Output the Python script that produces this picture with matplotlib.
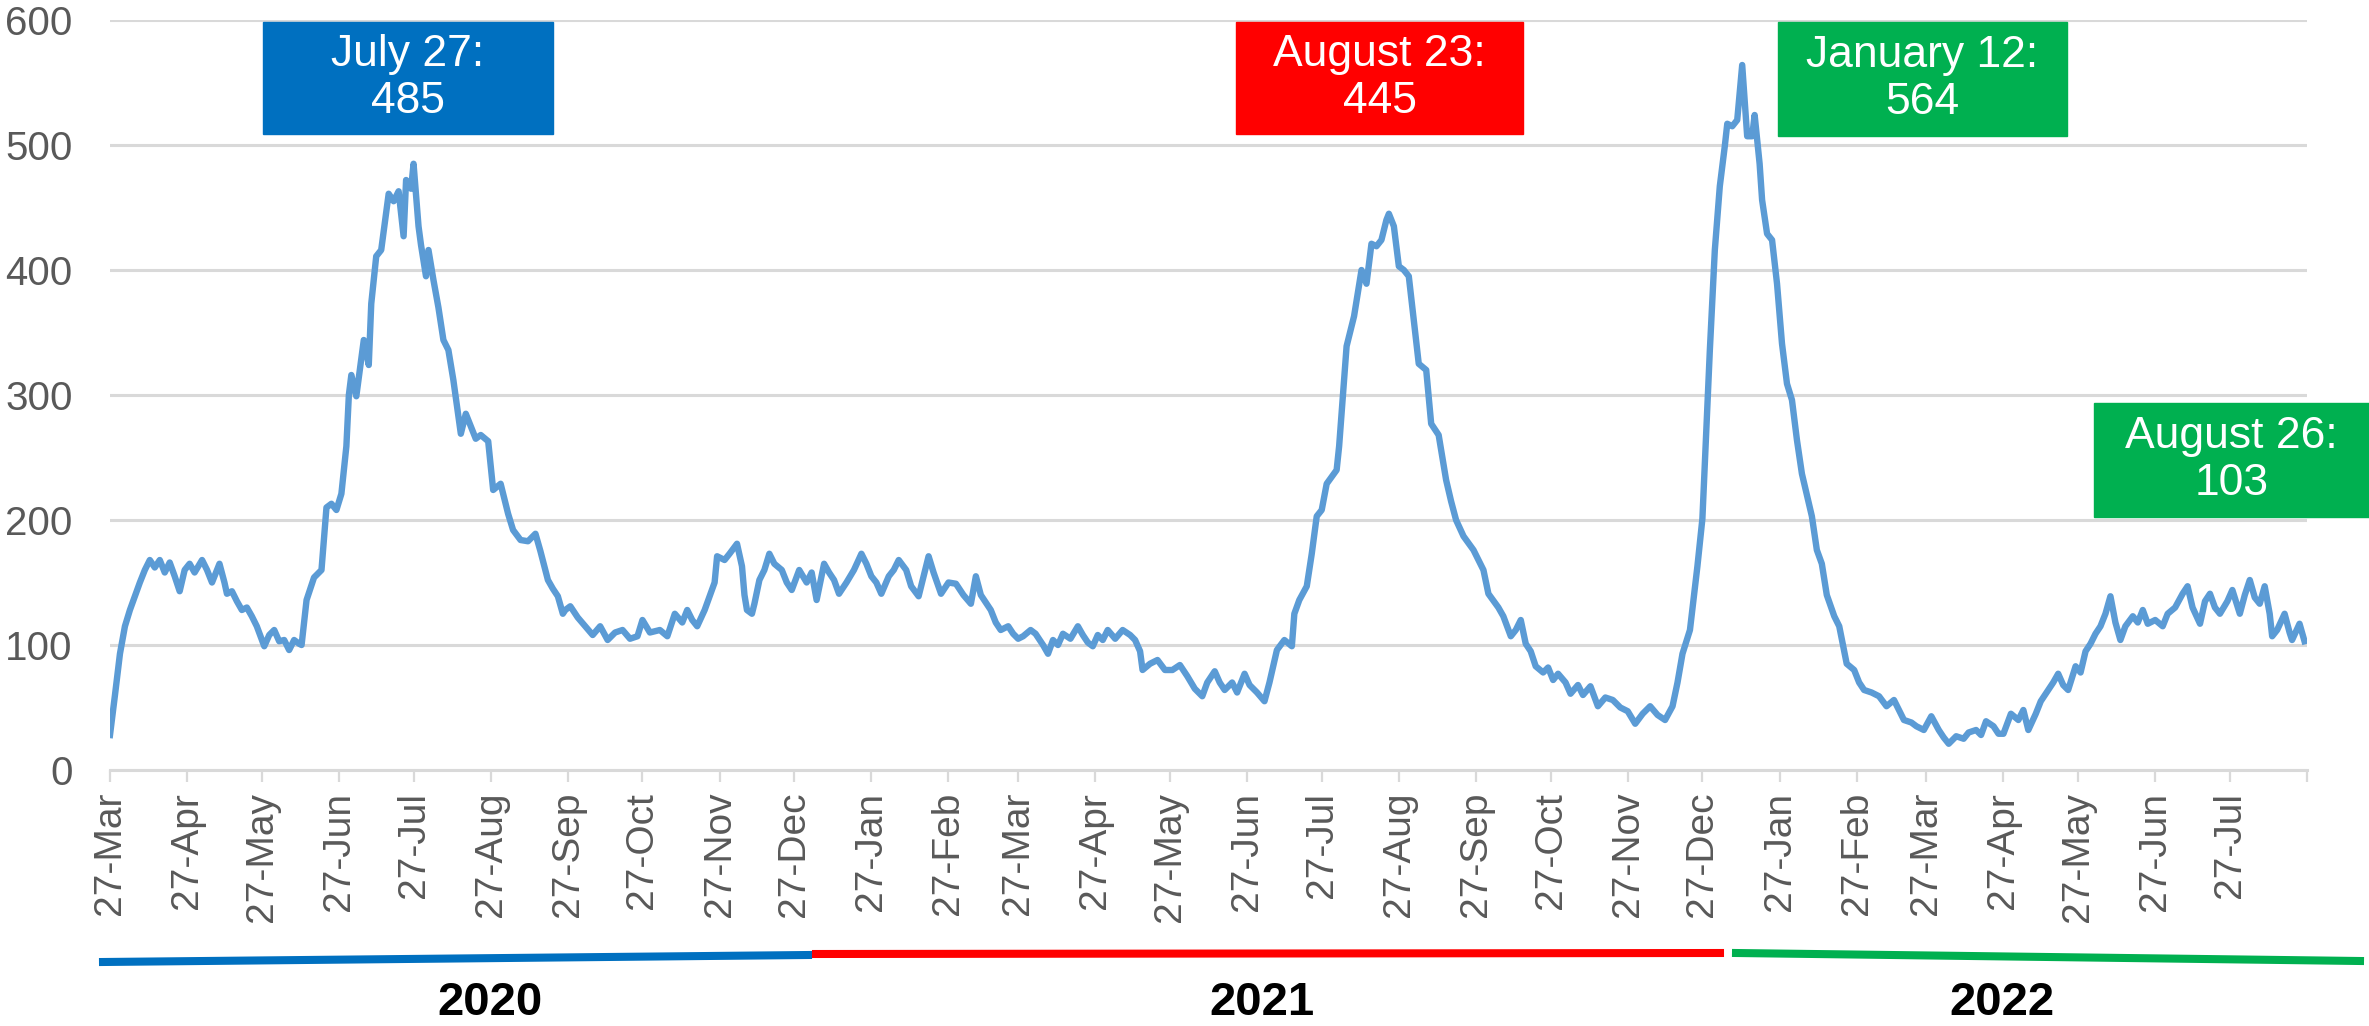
import matplotlib.pyplot as plt
import pandas as pd
from matplotlib.patches import Rectangle
from matplotlib.lines import Line2D
plt.switch_backend('agg')

plt.rcParams['font.family'] = ['Liberation Sans', 'DejaVu Sans']

# daily values; day 0 = 27 Mar 2020
start = pd.Timestamp('2020-03-27')
days = [0, 2, 4, 6, 8, 10, 12, 14, 16, 18, 20, 22, 24, 26, 28, 30, 32, 34, 37, 39,
        41, 44, 46, 47, 49, 51, 53, 55, 57, 59, 62, 64, 66, 68, 70, 72, 74, 76, 77, 79,
        82, 85, 87, 89, 91, 93, 95, 96, 97, 99, 102, 104, 105, 107, 109, 112, 114, 116, 118, 119,
        121, 122, 124, 125, 127, 128, 130, 132, 134, 136, 138, 141, 143, 145, 147, 149, 152, 154, 157, 160,
        162, 165, 168, 171, 173, 176, 178, 180, 182, 183, 185, 188, 191, 194, 197, 200, 203, 206, 209, 212,
        214, 217, 221, 224, 227, 230, 232, 234, 236, 239, 241, 243, 244, 247, 249, 252, 254, 255, 256, 258,
        259, 261, 263, 265, 267, 270, 272, 274, 277, 280, 282, 284, 287, 289, 291, 293, 296, 299, 302, 304,
        306, 308, 310, 313, 315, 317, 320, 322, 325, 327, 329, 331, 334, 337, 340, 343, 346, 348, 350, 354,
        356, 358, 361, 363, 365, 367, 370, 372, 375, 377, 379, 381, 383, 386, 389, 391, 393, 395, 397, 399,
        401, 404, 407, 410, 412, 414, 415, 418, 421, 424, 427, 430, 433, 436, 439, 441, 444, 446, 448, 451,
        453, 456, 458, 461, 464, 466, 469, 472, 475, 476, 478, 481, 483, 485, 487, 489, 493, 494, 496, 497,
        500, 503, 505, 507, 509, 511, 513, 514, 516, 518, 520, 522, 524, 526, 529, 531, 534, 537, 539, 541,
        544, 548, 550, 552, 554, 558, 560, 563, 565, 567, 569, 571, 573, 576, 578, 580, 582, 585, 587, 590,
        592, 595, 598, 601, 604, 607, 610, 613, 616, 619, 622, 625, 628, 630, 632, 635, 638, 640, 643, 645,
        647, 649, 650, 652, 654, 656, 658, 660, 661, 663, 664, 666, 668, 670, 672, 674, 676, 678, 680, 682,
        684, 686, 688, 690, 693, 695, 698, 701, 703, 705, 708, 711, 714, 717, 719, 721, 724, 726, 729, 732,
        735, 737, 739, 742, 745, 747, 750, 752, 754, 757, 759, 761, 764, 767, 769, 771, 774, 776, 778, 781,
        783, 785, 787, 790, 792, 794, 796, 798, 800, 802, 804, 806, 808, 810, 813, 815, 817, 819, 822, 825,
        827, 830, 833, 835, 837, 840, 842, 844, 846, 848, 851, 853, 856, 858, 860, 862, 864, 866, 868, 869,
        871, 874, 876, 877, 880, 882]
cases = [28, 60, 93, 115, 128, 139, 150, 160, 168, 162, 168, 158, 166, 155, 143, 160, 165, 158, 168, 160,
         150, 165, 150, 141, 143, 135, 128, 130, 123, 115, 99, 108, 112, 103, 104, 96, 104, 101, 100, 136,
         154, 160, 210, 213, 208, 221, 259, 300, 316, 299, 344, 324, 373, 411, 416, 461, 455, 463, 427, 472,
         465, 485, 435, 420, 395, 416, 392, 370, 344, 336, 312, 269, 285, 275, 265, 268, 263, 224, 229, 205,
         192, 184, 183, 189, 175, 152, 145, 139, 125, 128, 131, 122, 115, 108, 115, 104, 110, 112, 105, 107,
         120, 110, 112, 107, 125, 118, 128, 120, 115, 128, 139, 150, 171, 168, 173, 181, 163, 140, 128, 125,
         133, 152, 160, 173, 165, 160, 150, 144, 160, 150, 158, 136, 165, 158, 152, 141, 150, 160, 173, 165,
         155, 150, 141, 155, 160, 168, 160, 147, 139, 155, 171, 158, 141, 150, 149, 140, 133, 155, 140, 128,
         118, 112, 115, 109, 105, 107, 112, 109, 100, 93, 104, 100, 109, 105, 115, 108, 102, 99, 108, 104,
         112, 105, 112, 108, 104, 95, 80, 85, 88, 80, 80, 84, 75, 65, 59, 70, 79, 70, 64, 70,
         62, 77, 68, 62, 55, 70, 96, 104, 99, 125, 136, 147, 173, 203, 208, 229, 240, 259, 312, 339,
         363, 400, 389, 421, 419, 424, 440, 445, 435, 403, 400, 395, 360, 325, 320, 277, 268, 232, 215, 200,
         187, 176, 168, 160, 141, 130, 123, 107, 112, 120, 101, 95, 83, 78, 82, 72, 77, 70, 61, 68,
         60, 67, 51, 58, 56, 50, 47, 37, 45, 51, 44, 40, 51, 70, 93, 112, 163, 201, 336, 416,
         467, 499, 517, 515, 520, 564, 507, 507, 524, 485, 456, 429, 424, 389, 341, 309, 296, 264, 237, 220,
         203, 176, 165, 140, 123, 115, 85, 80, 70, 64, 62, 59, 51, 56, 48, 40, 38, 35, 32, 43,
         32, 26, 21, 27, 25, 30, 32, 28, 39, 35, 29, 29, 45, 40, 48, 32, 45, 55, 61, 70,
         77, 68, 64, 83, 78, 95, 101, 109, 115, 125, 139, 118, 104, 115, 123, 118, 128, 117, 120, 115,
         125, 130, 141, 147, 130, 117, 135, 141, 130, 125, 135, 144, 125, 140, 152, 138, 133, 147, 125, 107,
         112, 125, 110, 104, 117, 103]

callout_text = ['July 27:\n485', 'August 23:\n445', 'January 12:\n564', 'August 26:\n103']
callout_colors = ['#0070C0', '#FF0000', '#00B050', '#00B050']
years = ['2020', '2021', '2022']
year_colors = ['#0070C0', '#FF0000', '#00B050']

W, H = 2369, 1026
fig = plt.figure(figsize=(W / 100, H / 100), dpi=100)
ax = fig.add_axes([110 / W, 256 / H, 2197 / W, 750 / H])

dates = start + pd.to_timedelta(days, unit='D')
ax.plot(dates, cases, color='#5B9BD5', lw=4.6, solid_joinstyle='round', zorder=3)

ax.set_ylim(0, 600)
ax.set_yticks(range(0, 601, 100))
ax.set_xlim(start, pd.Timestamp('2022-08-27'))

ticks = pd.date_range('2020-03-27', '2022-08-27', freq=pd.DateOffset(months=1))
labels = [d.strftime('%d-%b') for d in ticks[:-1]] + ['']
ax.set_xticks(ticks)
ax.set_xticklabels(labels, rotation=90, ha='center', va='top')

ax.grid(axis='y', color='#D9D9D9', lw=2.2, zorder=0)
for s in ['top', 'right', 'left']:
    ax.spines[s].set_visible(False)
ax.spines['bottom'].set_color('#D9D9D9')
ax.spines['bottom'].set_linewidth(2.2)
ax.tick_params(axis='y', length=0, pad=27, labelsize=29, labelcolor='#595959')
ax.tick_params(axis='x', length=8.6, width=1.6, color='#D9D9D9', pad=7,
               labelsize=28, labelcolor='#595959')

# callout boxes (figure pixels: left, top, right, bottom)
boxes = [(263, 22, 553, 134), (1236, 22, 1523, 134), (1778, 22, 2067, 136), (2094, 403, 2369, 517)]
for (x0, y0, x1, y1), txt, c in zip(boxes, callout_text, callout_colors):
    fig.add_artist(Rectangle((x0 / W, 1 - y1 / H), (x1 - x0) / W, (y1 - y0) / H,
                             transform=fig.transFigure, color=c, zorder=5))
    fig.text((x0 + x1) / 2 / W, 1 - (y0 + y1) / 2 / H, txt, color='white', fontsize=32,
             ha='center', va='center', linespacing=1.2, zorder=6)

# year bars under the axis
bars = [((103, 808), (962, 955)), ((816, 1720), (954, 953)), ((1736, 2360), (953, 961))]
for (xs, ys), c in zip(bars, year_colors):
    fig.add_artist(Line2D([x / W for x in xs], [1 - y / H for y in ys],
                          transform=fig.transFigure, color=c, lw=5.8))
for x, yr in zip([490, 1262, 2002], years):
    fig.text(x / W, 1 - 1003 / H, yr, fontsize=34, fontweight='bold',
             ha='center', va='center', color='black')

fig.savefig('out.png', dpi=100)
